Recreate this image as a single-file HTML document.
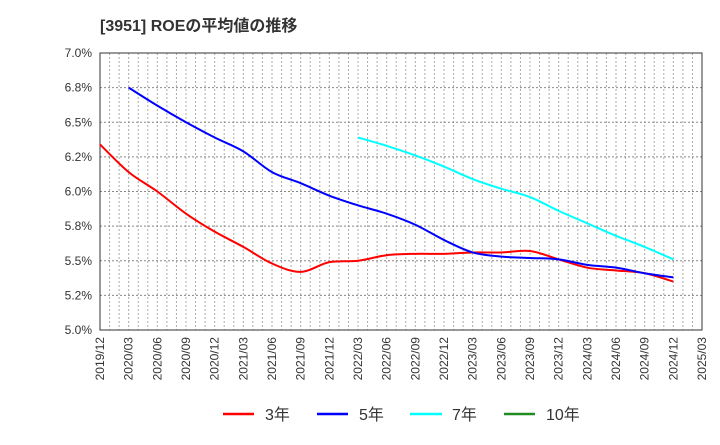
<!DOCTYPE html>
<html><head><meta charset="utf-8"><style>
body{margin:0;background:#fff;}
svg text{font-family:"Liberation Sans","Noto Sans CJK JP",sans-serif;}
</style></head><body>
<svg id="chart" width="720" height="440" xmlns="http://www.w3.org/2000/svg">
<text x="100" y="31" font-size="16" font-weight="bold" fill="#333">[3951]  ROEの平均値の推移</text>
<g id="grid"></g>
<g id="axes"></g>
<g id="series"></g>
<g id="legend">
<line x1="223" y1="414" x2="254" y2="414" stroke="#f00" stroke-width="2.5"/>
<text x="265" y="420" font-size="16" fill="#333">3年</text>
<line x1="317" y1="414" x2="348" y2="414" stroke="#00f" stroke-width="2.5"/>
<text x="359" y="420" font-size="16" fill="#333">5年</text>
<line x1="410" y1="414" x2="442" y2="414" stroke="#0ff" stroke-width="2.5"/>
<text x="452" y="420" font-size="16" fill="#333">7年</text>
<line x1="504" y1="414" x2="535" y2="414" stroke="#228b22" stroke-width="2.5"/>
<text x="546" y="420" font-size="16" fill="#333">10年</text>
</g>
</svg>
<script>
const xLabels = ["2019/12","2020/03","2020/06","2020/09","2020/12","2021/03","2021/06","2021/09","2021/12","2022/03","2022/06","2022/09","2022/12","2023/03","2023/06","2023/09","2023/12","2024/03","2024/06","2024/09","2024/12","2025/03"];
const yTicks = [5.0,5.25,5.5,5.75,6.0,6.25,6.5,6.75,7.0];
const yTickLabels = ["5.0%","5.2%","5.5%","5.8%","6.0%","6.2%","6.5%","6.8%","7.0%"];
const roe3 = [6.34,6.14,6.00,5.84,5.71,5.60,5.48,5.42,5.49,5.50,5.54,5.55,5.55,5.56,5.56,5.57,5.51,5.45,5.43,5.41,5.35];
const roe5 = [null,6.75,6.62,6.50,6.39,6.29,6.14,6.06,5.97,5.90,5.84,5.76,5.65,5.56,5.53,5.52,5.51,5.47,5.45,5.41,5.38];
const roe7 = [null,null,null,null,null,null,null,null,null,6.39,6.33,6.26,6.18,6.09,6.02,5.96,5.86,5.77,5.68,5.60,5.51];
const roe10 = [];

const L=100,R=702,T=53,B=330,yMin=5.0,yMax=7.0;
const nQ = xLabels.length-1;
const xs = i => L + (R-L)*i/nQ;
const ys = v => B - (v-yMin)/(yMax-yMin)*(B-T);
const NS="http://www.w3.org/2000/svg";
function mk(tag,attrs,parent){const e=document.createElementNS(NS,tag);for(const k in attrs)e.setAttribute(k,attrs[k]);parent.appendChild(e);return e;}
const grid=document.getElementById('grid'),axes=document.getElementById('axes'),ser=document.getElementById('series');
for(let m=1;m<nQ*3;m++){const x=L+(R-L)*m/(nQ*3);
 const g=mk('line',{x1:x,y1:T,x2:x,y2:B,stroke:'#aaa','stroke-width':1,'stroke-dasharray':'2,2'},grid);
 
 }
yTicks.forEach((v,i)=>{const y=ys(v);
 if(i>0&&i<yTicks.length-1){const g=mk('line',{x1:L,y1:y,x2:R,y2:y,stroke:'#888','stroke-width':1,'stroke-dasharray':'2,2'},grid);
 
 }
 const t=mk('text',{x:L-8,y:y+4,'text-anchor':'end','font-size':12,fill:'#333'},axes);t.textContent=yTickLabels[i];
 
 });
xLabels.forEach((lb,i)=>{const x=xs(i);
 const t=mk('text',{x:0,y:0,transform:`translate(${x+4},${B+7}) rotate(-90)`,'text-anchor':'end','font-size':12,fill:'#333'},axes);t.textContent=lb;
 
 });
const fr=mk('rect',{x:L,y:T,width:R-L,height:B-T,fill:'none',stroke:'#333','stroke-width':1},axes);


function pathFor(arr){const p=[];arr.forEach((v,i)=>{if(v!=null)p.push([xs(i),ys(v)]);});
 if(p.length<2)return '';let d=`M${p[0][0]},${p[0][1]}`;
 for(let i=0;i<p.length-1;i++){const p0=p[i-1]||p[i],p1=p[i],p2=p[i+1],p3=p[i+2]||p2;
  const c1=[p1[0]+(p2[0]-p0[0])/6,p1[1]+(p2[1]-p0[1])/6],c2=[p2[0]-(p3[0]-p1[0])/6,p2[1]-(p3[1]-p1[1])/6];
  d+=` C${c1[0]},${c1[1]} ${c2[0]},${c2[1]} ${p2[0]},${p2[1]}`;}
 return d;}
[[roe3,'#f00','line-3y'],[roe5,'#00f','line-5y'],[roe7,'#0ff','line-7y'],[roe10,'#228b22','line-10y']].forEach(([a,c,n])=>{
 const d=pathFor(a);if(!d)return;
 const e=mk('path',{d:d,fill:'none',stroke:c,'stroke-width':2},ser);
 
 });
</script>
</body></html>
